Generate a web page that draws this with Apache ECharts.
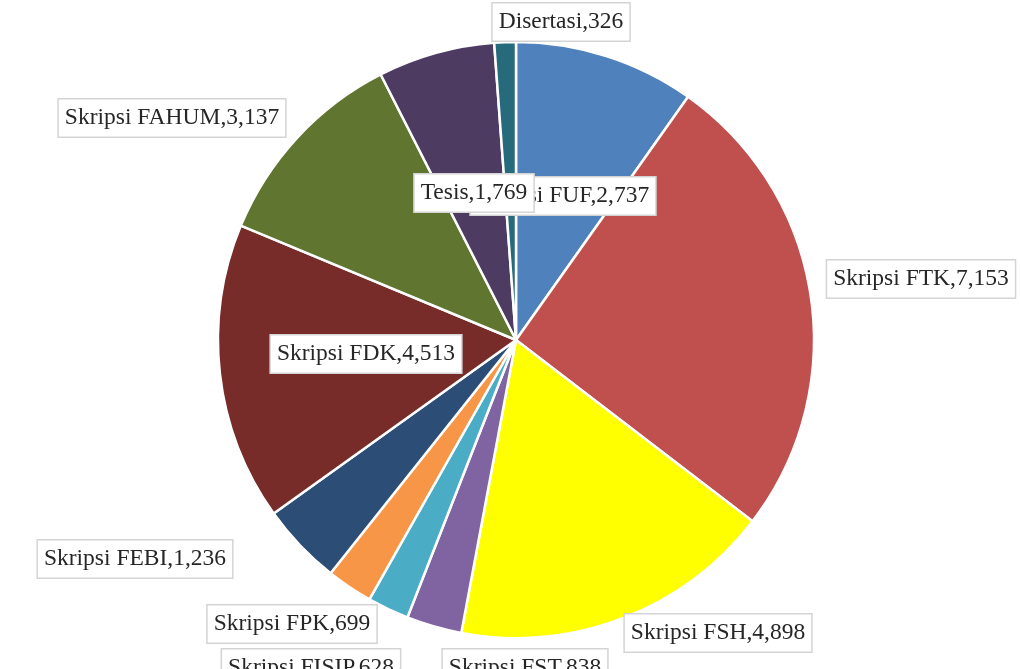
<!DOCTYPE html>
<html>
<head>
<meta charset="utf-8">
<script src="https://cdn.jsdelivr.net/npm/echarts@6/dist/echarts.min.js"></script>
<style>
html,body{margin:0;padding:0;background:#fff;}
#pie{width:1020px;height:669px;}
</style>
</head>
<body>
<div id="pie"></div>
<script>
var names = ['Skripsi FUF','Skripsi FTK','Skripsi FSH','Skripsi FST','Skripsi FISIP','Skripsi FPK','Skripsi FEBI','Skripsi FDK','Skripsi FAHUM','Tesis','Disertasi'];
var values = [2737,7153,4898,838,628,699,1236,4513,3137,1769,326];
var colors = ['#4f81bd','#c0504d','#ffff00','#8064a2','#4bacc6','#f79646','#2c4d75','#772c2a','#5f7530','#4d3b62','#276a7c'];
// label box centres (px)
var labelPos = [[563,196],[921,279],[718,633],[525,668],[311,668],[292,624],[135,559],[366,354],[172,118],[474,193],[561,22]];

var pie = echarts.init(document.getElementById('pie'));

var data = names.map(function(n,i){
    return {name:n, value:values[i], itemStyle:{color:colors[i]}};
});

pie.setOption({
    animation:false,
    series:[{
        type:'pie',
        center:[516,340],
        radius:[0,298],
        startAngle:90,
        clockwise:true,
        avoidLabelOverlap:false,
        data:data,
        itemStyle:{
            borderColor:'#fff',
            borderWidth:2.5
        },
        label:{
            show:true,
            position:'outside',
            formatter:function(p){
                return p.name+','+p.value.toLocaleString('en-US');
            },
            fontFamily:'Liberation Serif',
            fontSize:23.5,
            color:'#262626',
            backgroundColor:'#fff',
            borderColor:'#d4d4d4',
            borderWidth:1.5,
            padding:[7,6,6,6]
        },
        labelLine:{show:false},
        labelLayout:function(p){
            var pos = labelPos[p.dataIndex];
            return {x:pos[0], y:pos[1], align:'center', verticalAlign:'middle', hideOverlap:false};
        }
    }]
});
</script>
</body>
</html>
